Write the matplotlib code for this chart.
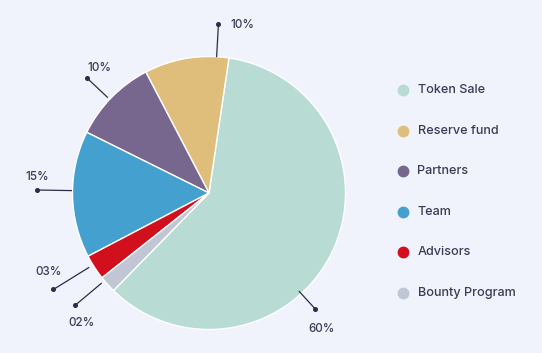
import matplotlib
matplotlib.use("Agg")
import matplotlib.pyplot as plt
import numpy as np

labels = ["Token Sale", "Reserve fund", "Partners", "Team", "Advisors", "Bounty Program"]
values = [60, 10, 10, 15, 3, 2]
pct_text = ["60%", "10%", "10%", "15%", "03%", "02%"]
colors = ["#b8dbd3", "#dfbd7b", "#77678f", "#44a1cf", "#d10f1d", "#c0c6d3"]

# leader line geometry (angle deg, inner r, outer r) and label offset (px)
leader = [(-47.5, 133, 157), (86.8, 136, 169), (136.7, 139, 167),
          (179.0, 137, 172), (211.8, 141, 183), (220.0, 140, 175)]
label_off = [(6, 20), (24, 1), (12, -10), (0, -13), (-5, -17), (7, 18)]

bg = "#f0f3fc"
txt = "#3a3c55"
plt.rcParams['font.family'] = ['Inter', 'DejaVu Sans']

fig = plt.figure(figsize=(5.42, 3.53), dpi=100, facecolor=bg)
ax = fig.add_axes([0, 0, 1, 1])
ax.set_facecolor(bg)

cx, cy, R = 209, 353 - 193, 136.5
ax.pie(values, colors=colors, startangle=81.6 - 216, counterclock=True,
       center=(cx, cy), radius=R, frame=True,
       wedgeprops=dict(edgecolor="white", linewidth=1.0))
ax.set_xlim(0, 542)
ax.set_ylim(0, 353)
ax.set_aspect('equal')
ax.axis('off')

for (ang, r0, r1), (ox, oy), t in zip(leader, label_off, pct_text):
    a = np.deg2rad(ang)
    x0, y0 = cx + r0 * np.cos(a), cy + r0 * np.sin(a)
    x1, y1 = cx + r1 * np.cos(a), cy + r1 * np.sin(a)
    ax.plot([x0, x1], [y0, y1], color="#2b2e48", lw=0.9, solid_capstyle='butt')
    ax.plot([x1], [y1], 'o', color="#2b2e48", ms=2.6)
    ax.text(x1 + ox, y1 - oy, t, color=txt, fontsize=8.4, fontweight='medium',
            ha='center', va='center')

# legend
for i, (lab, c) in enumerate(zip(labels, colors)):
    y = 353 - (90 + i * 40.6)
    ax.plot([403], [y], 'o', color=c, ms=7.5)
    ax.text(417.5, y, lab, color=txt, fontsize=9.1, fontweight='medium',
            ha='left', va='center')

fig.savefig("out.png", dpi=100, facecolor=bg)
